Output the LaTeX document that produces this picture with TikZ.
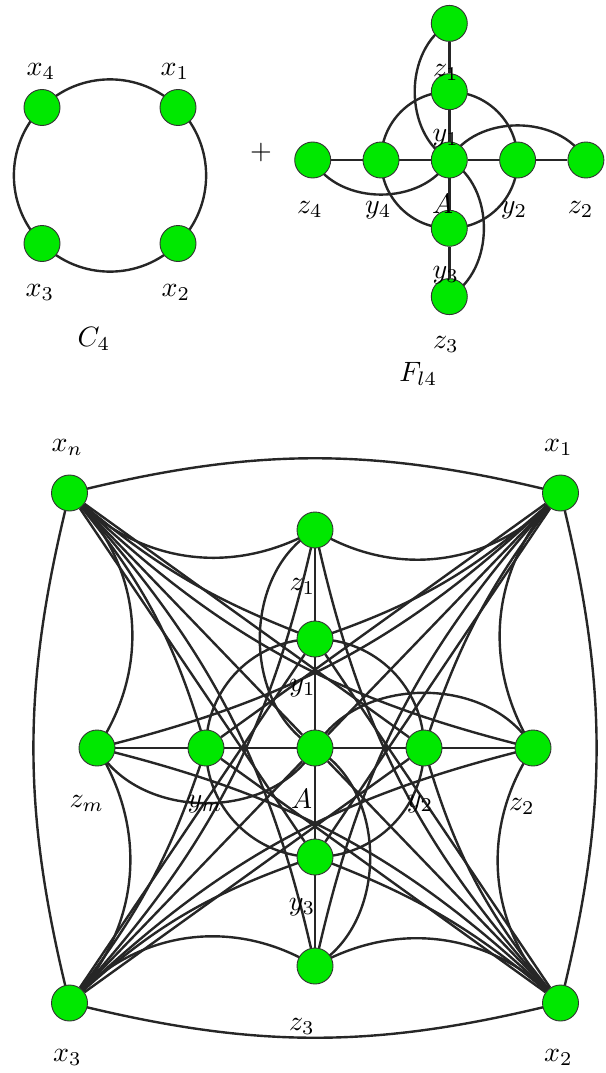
\documentclass[tikz,border=0pt]{standalone}
\pgfdeclarelayer{bg}
\pgfsetlayers{bg,main}
\definecolor{vgreen}{RGB}{0,232,0}
\tikzset{
  vtx/.style={circle,fill=vgreen,draw=black!80,line width=0.9pt,minimum size=36pt,inner sep=0pt},
  lbl/.style={anchor=base,inner sep=0pt,scale=2.8},
  edg/.style={line width=2.4pt,draw=black!85},
}
\begin{document}
\begin{tikzpicture}[x=1pt,y=1pt]
\useasboundingbox (0,0) rectangle (605,-1073);
% ---- C4 ----
\node[vtx] (c4) at (42,-107.5) {};
\node[vtx] (c1) at (178,-107.5) {};
\node[vtx] (c2) at (178,-243.5) {};
\node[vtx] (c3) at (42,-243.5) {};
% ---- F_l4 (top) ----
\node[vtx] (tA)  at (449.3,-160) {};
\node[vtx] (ty1) at (449.3,-91.7) {};
\node[vtx] (ty2) at (517.6,-160) {};
\node[vtx] (ty3) at (449.3,-228.3) {};
\node[vtx] (ty4) at (381,-160) {};
\node[vtx] (tz1) at (449.3,-23.4) {};
\node[vtx] (tz2) at (585.9,-160) {};
\node[vtx] (tz3) at (449.3,-296.6) {};
\node[vtx] (tz4) at (312.7,-160) {};
% ---- bottom graph ----
\node[vtx] (A)  at (315,-748) {};
\node[vtx] (ya) at (315,-639) {};
\node[vtx] (yb) at (424,-748) {};
\node[vtx] (yc) at (315,-857) {};
\node[vtx] (ym) at (206,-748) {};
\node[vtx] (za) at (315,-530) {};
\node[vtx] (zb) at (533,-748) {};
\node[vtx] (zc) at (315,-966) {};
\node[vtx] (zm) at (97,-748) {};
\node[vtx] (xn) at (69.5,-493) {};
\node[vtx] (xa) at (560.5,-493) {};
\node[vtx] (xb) at (560.5,-1003) {};
\node[vtx] (xc) at (69.5,-1003) {};

\begin{pgfonlayer}{bg}
% C4
\draw[edg] (c4.center) to[bend left=45] (c1.center) (c1.center) to[bend left=45] (c2.center)
           (c2.center) to[bend left=45] (c3.center) (c3.center) to[bend left=45] (c4.center);
% F_l4 top
\draw[edg] (tz4) -- (ty4) (ty4) -- (tA) (tA) -- (ty2) (ty2) -- (tz2)
           (tz1) -- (ty1) (ty1) -- (tA) (tA) -- (ty3) (ty3) -- (tz3);
\draw[edg] (ty1.center) to[bend left=45] (ty2.center) (ty2.center) to[bend left=45] (ty3.center)
           (ty3.center) to[bend left=45] (ty4.center) (ty4.center) to[bend left=45] (ty1.center);
\draw[edg] (tz1.center) to[bend right=60] (tA.center) (tz2.center) to[bend right=60] (tA.center)
           (tz3.center) to[bend right=60] (tA.center) (tz4.center) to[bend right=60] (tA.center);
% bottom F part
\draw[edg] (zm) -- (ym) (ym) -- (A) (A) -- (yb) (yb) -- (zb)
           (za) -- (ya) (ya) -- (A) (A) -- (yc) (yc) -- (zc);
\draw[edg] (ya.center) to[bend left=45] (yb.center) (yb.center) to[bend left=45] (yc.center)
           (yc.center) to[bend left=45] (ym.center) (ym.center) to[bend left=45] (ya.center);
\draw[edg] (za.center) to[bend right=60] (A.center) (zb.center) to[bend right=60] (A.center)
           (zc.center) to[bend right=60] (A.center) (zm.center) to[bend right=60] (A.center);
% bottom cycle of x
\draw[edg] (xn.center) to[bend left=14] (xa.center) (xa.center) to[bend left=14] (xb.center)
           (xb.center) to[bend left=14] (xc.center) (xc.center) to[bend left=14] (xn.center);
% x to all F vertices
\foreach \X/\Zc/\Zp/\Zn/\Zf/\Yc/\Yp/\Yn/\Yf in
  {xn/za/zm/zb/zc/ya/ym/yb/yc, xa/zb/za/zc/zm/yb/ya/yc/ym,
   xb/zc/zb/zm/za/yc/yb/ym/ya, xc/zm/zc/za/zb/ym/yc/ya/yb}{
  \draw[edg] (\X.center) to[bend right=38] (\Zc.center);
  \draw[edg] (\X.center) to[bend left=40] (\Zp.center);
  \draw[edg] (\X.center) to[bend right=15] (\Zn.center);
  \draw[edg] (\X.center) to[bend left=15] (\Zf.center);
  \draw[edg] (\X.center) to[bend right=10] (\Yc.center);
  \draw[edg] (\X.center) to[bend left=12] (\Yp.center);
  \draw[edg] (\X) -- (\Yn) (\X) -- (\Yf) (\X) -- (A);
}
\end{pgfonlayer}

% ---- labels ----
\node[lbl] (lc4) at (40.8,-75) {$x_4$};
\node[lbl] (lc1) at (175,-75) {$x_1$};
\node[lbl] (lc3) at (40,-296.7) {$x_3$};
\node[lbl] (lc2) at (176,-296.7) {$x_2$};
\node[lbl] (lC)  at (94,-346.7) {$C_4$};
\node[lbl,anchor=center] (lplus) at (261,-152) {$+$};
\node[lbl] (ltz1) at (445.8,-76) {$z_1$};
\node[lbl] (lty1) at (445.8,-141.7) {$y_1$};
\node[lbl] (ltz4) at (310,-213.3) {$z_4$};
\node[lbl] (lty4) at (378.3,-213.3) {$y_4$};
\node[lbl] (ltA)  at (442.5,-213.3) {$A$};
\node[lbl] (lty2) at (514,-213.3) {$y_2$};
\node[lbl] (ltz2) at (580.7,-213.3) {$z_2$};
\node[lbl] (lty3) at (445.8,-278.3) {$y_3$};
\node[lbl] (ltz3) at (445.8,-348.3) {$z_3$};
\node[lbl] (lF)   at (418.3,-381.7) {$F_{l4}$};
\node[lbl] (lxn) at (67.2,-451.7) {$x_n$};
\node[lbl] (lxa) at (558.3,-451.7) {$x_1$};
\node[lbl] (lza) at (302.5,-590) {$z_1$};
\node[lbl] (lya) at (302.5,-691.7) {$y_1$};
\node[lbl] (lzm) at (86.7,-807.3) {$z_m$};
\node[lbl] (lym) at (205,-807) {$y_m$};
\node[lbl] (lA)  at (301.7,-808.3) {$A$};
\node[lbl] (lyb) at (420,-807) {$y_2$};
\node[lbl] (lzb) at (522,-810) {$z_2$};
\node[lbl] (lyc) at (302,-910) {$y_3$};
\node[lbl] (lzc) at (302,-1030) {$z_3$};
\node[lbl] (lxc) at (67.3,-1061.7) {$x_3$};
\node[lbl] (lxb) at (558.3,-1061.7) {$x_2$};
\end{tikzpicture}
\end{document}
